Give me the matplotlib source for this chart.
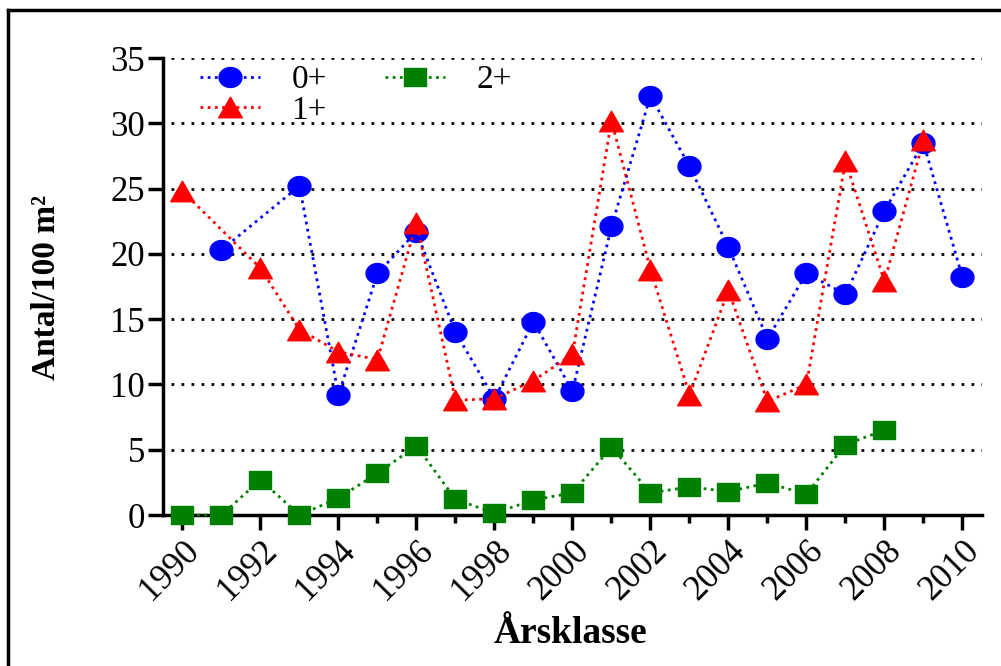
import numpy as np
import matplotlib
matplotlib.use("Agg")
import matplotlib.pyplot as plt
from matplotlib.path import Path
from matplotlib.lines import Line2D

plt.rcParams['font.family'] = ['Liberation Serif', 'DejaVu Serif']

# data
years_0 = [1991, 1993, 1994, 1995, 1996, 1997, 1998, 1999, 2000, 2001,
           2002, 2003, 2004, 2005, 2006, 2007, 2008, 2009, 2010]
vals_0 = [20.3, 25.2, 9.2, 18.5, 21.7, 14.0, 8.9, 14.8, 9.5, 22.1,
          32.1, 26.7, 20.5, 13.5, 18.5, 16.9, 23.3, 28.5, 18.2]

years_1 = list(range(1990, 2010))
vals_1 = [24.8, None, 18.9, 14.2, 12.5, 11.9, 22.4, 8.8, 8.9, 10.3,
          12.3, 30.2, 18.8, 9.2, 17.2, 8.7, 10.0, 27.1, 17.9, 28.7]

years_2 = list(range(1990, 2009))
vals_2 = [0.0, 0.0, 2.7, 0.0, 1.3, 3.2, 5.3, 1.2, 0.15, 1.15,
          1.7, 5.2, 1.7, 2.15, 1.8, 2.45, 1.6, 5.4, 6.5]

labels = ['0+', '1+', '2+']
colors = ['#0000ff', '#ff0000', '#008000']

# reference markers are a bit wider than tall
t = np.linspace(0, 2 * np.pi, 60)
ellipse = Path(np.column_stack([np.cos(t), 0.87 * np.sin(t)]))
tri = Path([(-1, -0.87), (1, -0.87), (0, 0.87), (-1, -0.87)], closed=True)
rect = Path([(-1, -0.82), (1, -0.82), (1, 0.82), (-1, 0.82), (-1, -0.82)], closed=True)

fig = plt.figure(figsize=(10.01, 6.66), dpi=100)
ax = fig.add_axes([0.1628, 0.2267, 0.8182, 0.6862])

# black frame round the picture (only left and top show)
fig.add_artist(Line2D([0.008, 0.008], [0, 0.985], color='black', lw=2.5, transform=fig.transFigure))
fig.add_artist(Line2D([0.008, 1.0], [0.985, 0.985], color='black', lw=2.5, transform=fig.transFigure))

ls = (0, (1, 1.6))
y1 = [np.nan if v is None else v for v in vals_1]
l0, = ax.plot(years_0, vals_0, color=colors[0], ls=ls, lw=2, marker=ellipse, ms=16.5,
              clip_on=False, zorder=3)
l1, = ax.plot(years_1, y1, color=colors[1], ls=ls, lw=2, marker=tri, ms=17,
              clip_on=False, zorder=4)
# 1+ skips 1991, line is drawn across the gap
ax.plot([1990, 1992], [vals_1[0], vals_1[2]], color=colors[1], ls=ls, lw=2, zorder=2)
l2, = ax.plot(years_2, vals_2, color=colors[2], ls=ls, lw=2, marker=rect, ms=16,
              clip_on=False, zorder=3)

ax.set_xlim(1989.5, 2010.5)
ax.set_ylim(0, 35)
ax.set_yticks(np.arange(0, 36, 5))
ax.set_xticks(range(1990, 2011, 2))
ax.set_xticks(range(1991, 2011, 2), minor=True)

for y in range(5, 36, 5):
    ax.axhline(y, color='black', ls=(0, (1, 2.6)), lw=2, zorder=1, xmin=0.01)

for s in ['top', 'right']:
    ax.spines[s].set_visible(False)
for s in ['left', 'bottom']:
    ax.spines[s].set_linewidth(2.5)

ax.tick_params(axis='both', which='major', length=11, width=2.5, labelsize=25, pad=2)
ax.tick_params(axis='x', which='minor', length=6, width=2.5)
ax.tick_params(axis='x', which='major', labelsize=25, pad=3)
for lab in ax.get_xticklabels():
    lab.set_rotation(45)
    lab.set_ha('right')
    lab.set_va('top')
    lab.set_rotation_mode('anchor')

fig.text(47 / 1001, 1 - 287 / 666, 'Antal/100 m\u00b2', rotation=90, ha='center', va='center',
         fontsize=24, fontweight='bold')
fig.text(570 / 1001, 1 - 643 / 666, 'Årsklasse', ha='center', va='baseline',
         fontsize=27, fontweight='bold')

ax.legend([l0, l1, l2], labels, ncol=2, loc='upper left', bbox_to_anchor=(0.045, 0.985),
          frameon=False, fontsize=24, handlelength=1.8, handletextpad=0.95,
          columnspacing=1.75, labelspacing=0.0, borderpad=0, borderaxespad=0)

fig.savefig('out.png', dpi=100)
